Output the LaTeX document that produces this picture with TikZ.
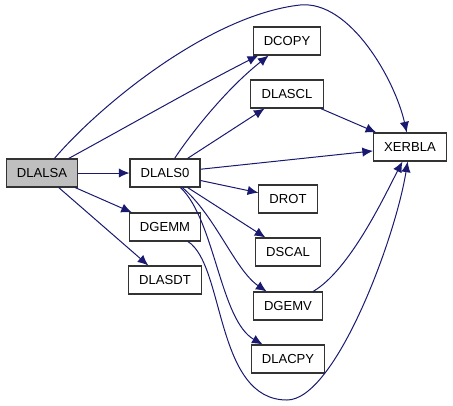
\documentclass[tikz,border=0pt]{standalone}
\usepackage{fontspec}
\setmainfont{Liberation Sans}
\usepackage{xcolor}
\usepackage{tikz}
\usetikzlibrary{arrows.meta}
\definecolor{edgeblue}{HTML}{191970}

\begin{document}
\begin{tikzpicture}[x=0.75pt,y=-0.75pt,
	fn/.style={draw=black!80,line width=0.8pt,minimum height=21pt,inner xsep=8pt,inner ysep=0pt,font=\fontsize{9.8}{11}\selectfont},
	call/.style={-{Latex[length=8pt,width=7pt]},edgeblue,line width=0.75pt}]
	\useasboundingbox (0,0) rectangle (453,405);
	% routines
	\node[fn,fill=black!25] (dlalsa) at (42,173) {DLALSA};
	\node[fn] (dlals0) at (165,173) {DLALS0};
	\node[fn] (dgemm) at (165,227) {DGEMM};
	\node[fn] (dlasdt) at (165,280) {DLASDT};
	\node[fn] (dcopy) at (287,41) {DCOPY};
	\node[fn] (dlascl) at (287,94) {DLASCL};
	\node[fn] (xerbla) at (410,147) {XERBLA};
	\node[fn] (drot) at (288,199) {DROT};
	\node[fn] (dscal) at (288,252) {DSCAL};
	\node[fn] (dgemv) at (288,306) {DGEMV};
	\node[fn] (dlacpy) at (288,359) {DLACPY};
	% calls from DLALSA
	\draw[call] (dlalsa) -- (dlals0);
	\draw[call] (dlalsa) -- (dgemm);
	\draw[call] (dlalsa) -- (dlasdt);
	\draw[call] (dlalsa) .. controls (130,125) and (200,85) .. (dcopy);
	\draw[call] (dlalsa) .. controls (100,105) and (210,15) .. (300,5)
		.. controls (350,0) and (395,80) .. (xerbla);
	% calls from DLALS0
	\draw[call] (dlals0) .. controls (190,135) and (225,90) .. (dcopy);
	\draw[call] (dlals0) -- (dlascl);
	\draw[call] (dlals0) -- (xerbla);
	\draw[call] (dlals0) -- (drot);
	\draw[call] (dlals0) -- (dscal);
	\draw[call] (dlals0) .. controls (215,215) and (235,270) .. (dgemv);
	\draw[call] (dlals0) .. controls (215,220) and (220,320) .. (dlacpy);
	% calls to XERBLA
	\draw[call] (dlascl) -- (xerbla);
	\draw[call] (dgemv) .. controls (350,270) and (385,195) .. (xerbla);
	\draw[call] (dgemm) .. controls (225,265) and (215,400) .. (287,400)
		.. controls (335,400) and (395,240) .. (xerbla);
\end{tikzpicture}
\end{document}
